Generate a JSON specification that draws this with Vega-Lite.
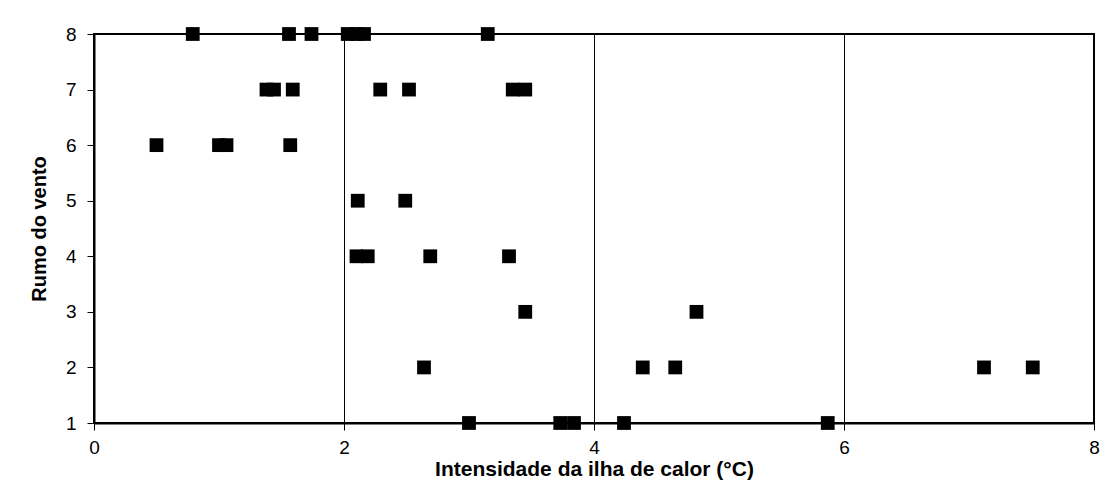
{
  "$schema": "https://vega.github.io/schema/vega-lite/v6.json",
  "width": 1000,
  "height": 389,
  "autosize": {"type": "none"},
  "padding": {"left": 94, "top": 34, "right": 20, "bottom": 74},
  "background": "white",
  "config": {
    "view": {"stroke": "black", "strokeWidth": 2},
    "font": "Liberation Sans"
  },
  "data": {
    "values": [
      {"x": 0.79, "y": 8}, {"x": 1.56, "y": 8}, {"x": 1.74, "y": 8}, {"x": 2.03, "y": 8}, {"x": 2.1, "y": 8}, {"x": 2.16, "y": 8}, {"x": 3.15, "y": 8},
      {"x": 1.38, "y": 7}, {"x": 1.44, "y": 7}, {"x": 1.59, "y": 7}, {"x": 2.29, "y": 7}, {"x": 2.52, "y": 7}, {"x": 3.35, "y": 7}, {"x": 3.45, "y": 7},
      {"x": 0.5, "y": 6}, {"x": 1.0, "y": 6}, {"x": 1.06, "y": 6}, {"x": 1.57, "y": 6},
      {"x": 2.11, "y": 5}, {"x": 2.49, "y": 5},
      {"x": 2.1, "y": 4}, {"x": 2.19, "y": 4}, {"x": 2.69, "y": 4}, {"x": 3.32, "y": 4},
      {"x": 3.45, "y": 3}, {"x": 4.82, "y": 3},
      {"x": 2.64, "y": 2}, {"x": 4.39, "y": 2}, {"x": 4.65, "y": 2}, {"x": 7.12, "y": 2}, {"x": 7.51, "y": 2},
      {"x": 3.0, "y": 1}, {"x": 3.73, "y": 1}, {"x": 3.84, "y": 1}, {"x": 4.24, "y": 1}, {"x": 5.87, "y": 1}
    ]
  },
  "mark": {"type": "point", "shape": "square", "filled": true, "color": "black", "opacity": 1, "size": 190, "clip": false},
  "encoding": {
    "x": {
      "field": "x", "type": "quantitative",
      "scale": {"domain": [0, 8], "nice": false, "zero": false},
      "axis": {
        "title": "Intensidade da ilha de calor (°C)",
        "values": [0, 2, 4, 6, 8],
        "grid": true, "gridColor": "black", "gridWidth": 1, "gridOpacity": 1,
        "domainColor": "black", "domainWidth": 2,
        "tickColor": "black", "tickSize": 7,
        "labelFlush": false,
        "labelFont": "Liberation Sans", "labelFontSize": 19, "labelColor": "black", "labelPadding": 8,
        "titleFont": "Liberation Sans", "titleFontSize": 21, "titleFontWeight": "bold", "titleColor": "black", "titlePadding": 1
      }
    },
    "y": {
      "field": "y", "type": "quantitative",
      "scale": {"domain": [1, 8], "nice": false, "zero": false},
      "axis": {
        "title": "Rumo do vento",
        "values": [1, 2, 3, 4, 5, 6, 7, 8],
        "grid": false,
        "domainColor": "black", "domainWidth": 2,
        "tickColor": "black", "tickSize": 7,
        "labelFlush": false,
        "labelFont": "Liberation Sans", "labelFontSize": 19, "labelColor": "black", "labelPadding": 11,
        "titleFont": "Liberation Sans", "titleFontSize": 20, "titleFontWeight": "bold", "titleColor": "black", "titlePadding": 16
      }
    }
  }
}
